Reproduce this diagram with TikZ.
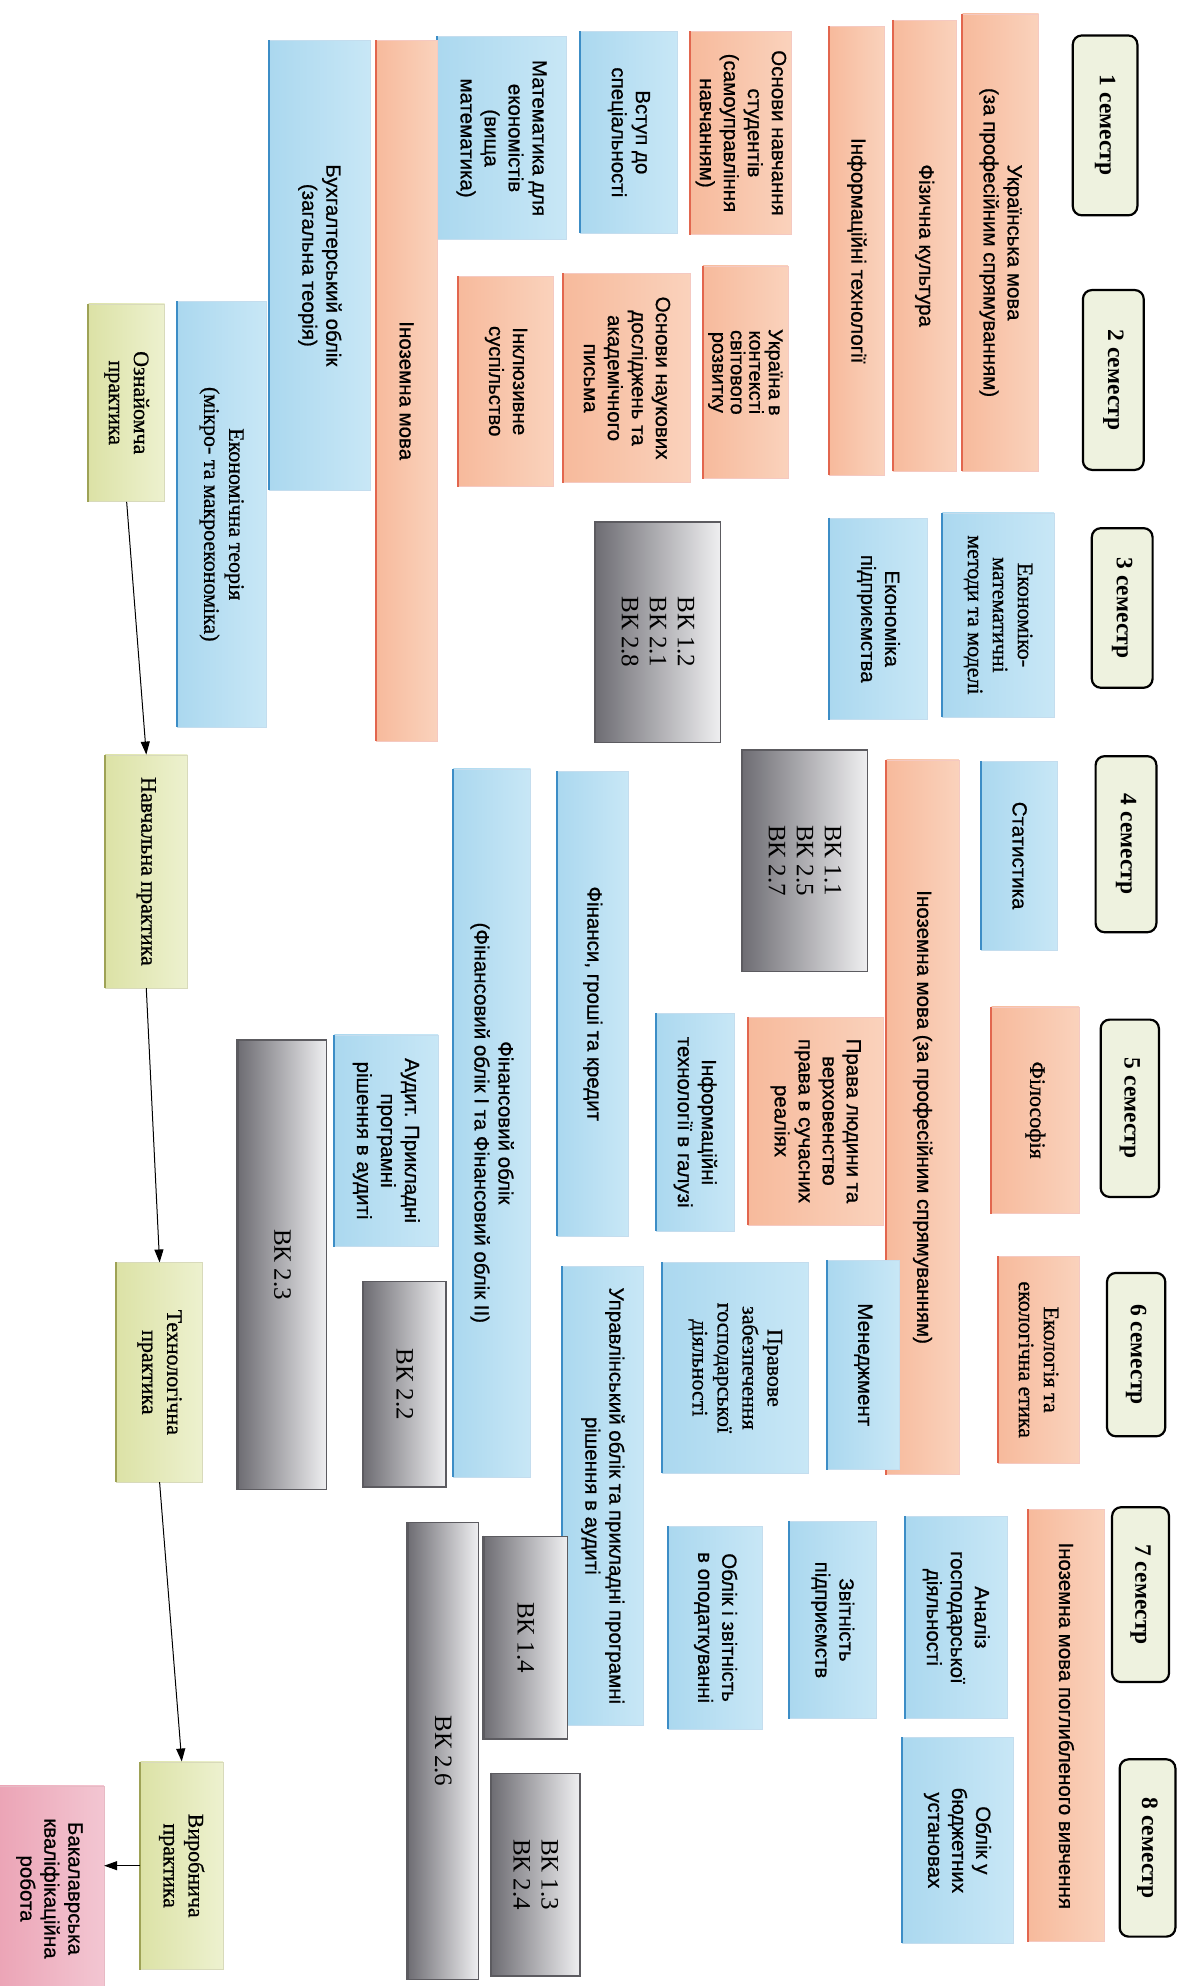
\documentclass[tikz,border=0pt]{standalone}
\usepackage{fontspec}
\setmainfont{Liberation Serif}
\setsansfont{Liberation Sans}
\newfontfamily\bsans{Liberation Sans}[FakeBold=0.8]
\newfontfamily\bserif{Liberation Serif}[FakeBold=0.8]
\usetikzlibrary{arrows.meta}
\definecolor{orA}{HTML}{F7BA9C}
\definecolor{orB}{HTML}{FDE8DB}
\definecolor{orC}{HTML}{FAD2BC}
\definecolor{orE}{HTML}{E2664E}
\definecolor{blA}{HTML}{ABD8EF}
\definecolor{blB}{HTML}{E1F2FA}
\definecolor{blC}{HTML}{C8E7F6}
\definecolor{blE}{HTML}{3C8DC6}
\definecolor{grA}{HTML}{6E6D73}
\definecolor{grB}{HTML}{D9D9DC}
\definecolor{grC}{HTML}{EFEFF1}
\definecolor{grE}{HTML}{5C5B60}
\definecolor{gnA}{HTML}{DCE2A6}
\definecolor{gnB}{HTML}{F6F8E4}
\definecolor{gnC}{HTML}{EDF1CF}
\definecolor{gnE}{HTML}{9EA256}
\definecolor{pkA}{HTML}{EBA3B5}
\definecolor{pkB}{HTML}{F9E0E7}
\definecolor{pkC}{HTML}{F3C6D2}
\definecolor{pkE}{HTML}{C2526C}
\definecolor{semF}{HTML}{EEF2DF}
\tikzset{
  cbox/.style={rotate=-90, align=center, inner sep=2pt, line width=0.6pt, text=black},
  sansf/.style={font=\bsans\fontsize{20.5}{24}\selectfont},
  seriff/.style={font=\bserif\fontsize{22}{25}\selectfont},
  vkf/.style={font=\rmfamily\fontsize{25}{28}\selectfont},
  or box/.style={cbox, sansf, draw=orE!35, left color=orA, middle color=orB, right color=orC},
  or edge/.style={draw=orE, line width=2pt},
  bl box/.style={cbox, sansf, draw=blE!30, left color=blA, middle color=blB, right color=blC},
  bl edge/.style={draw=blE, line width=2pt},
  gr box/.style={cbox, vkf, draw=grE, line width=1.4pt, left color=grA, middle color=grB, right color=grC},
  gr edge/.style={draw=grE, line width=2pt},
  gn box/.style={cbox, seriff, draw=gnE!40, left color=gnA, middle color=gnB, right color=gnC},
  gn edge/.style={draw=gnE, line width=2pt},
  pk box/.style={cbox, sansf, draw=pkE!40, left color=pkA, middle color=pkB, right color=pkC},
  pk edge/.style={draw=pkE, line width=2pt},
  sem/.style={rotate=-90, draw=black, line width=2.2pt, rounded corners=9pt, fill=semF,
    font=\rmfamily\bfseries\fontsize{23.5}{26}\selectfont},
  flow/.style={line width=1pt, -{Triangle[length=13pt,width=9pt]}}
}
% \bx{name}{type}{extra}{x1}{y1}{x2}{y2}{text}
\newcommand\bx[8]{%
  \pgfmathsetmacro\bxcx{(#4+#6)/2}\pgfmathsetmacro\bxcy{(#5+#7)/2}%
  \pgfmathsetmacro\bxww{abs(#7-#5)*1.267}\pgfmathsetmacro\bxhh{abs(#6-#4)*1.267}%
  \node[#2 box, minimum width=\bxww pt, minimum height=\bxhh pt, #3] (#1) at (\bxcx,\bxcy) {#8};
  \draw[#2 edge] (#1.south west) -- (#1.south east);}
\newcommand\sm[6]{%
  \pgfmathsetmacro\bxcx{(#2+#4)/2}\pgfmathsetmacro\bxcy{(#3+#5)/2}%
  \pgfmathsetmacro\bxww{abs(#5-#3)*1.267}\pgfmathsetmacro\bxhh{abs(#4-#2)*1.267}%
  \node[sem, minimum width=\bxww pt, minimum height=\bxhh pt] (#1) at (\bxcx,\bxcy) {#6};}
\begin{document}
\begin{tikzpicture}[x=1.267pt, y=-1.267pt]
\useasboundingbox[fill=white] (0,0) rectangle (940,1568);
% semesters
\sm{s1}{847}{28}{898}{170}{1 семестр}
\sm{s2}{855}{229}{903}{371}{2 семестр}
\sm{s3}{862}{417}{910}{543}{3 семестр}
\sm{s4}{865}{597}{913}{736}{4 семестр}
\sm{s5}{869}{805}{915}{945}{5 семестр}
\sm{s6}{874}{1005}{920}{1134}{6 семестр}
\sm{s7}{878}{1190}{923}{1328}{7 семестр}
\sm{s8}{884}{1389}{928}{1529}{8 семестр}
% semester 1-2
\bx{ukr}{or}{}{760}{11}{820}{372}{Українська мова\\(за професійним спрямуванням)}
\bx{fiz}{or}{}{705}{16}{755}{372}{Фізична культура}
\bx{inf}{or}{}{655}{21}{698}{375}{Інформаційні технології}
\bx{osn}{or}{}{545}{25}{625}{185}{Основи навчання\\студентів\\(самоуправління\\навчанням)}
\bx{vst}{bl}{}{458}{25}{535}{184}{Вступ до\\спеціальності}
\bx{mat}{bl}{}{345}{29}{447}{189}{Математика для\\економістів\\(вища\\математика)}
\bx{ino}{or}{}{297}{32}{345}{585}{Іноземна мова}
\bx{bux}{bl}{}{213}{32}{292}{387}{Бухгалтерський облік\\(загальна теорія)}
\bx{ukk}{or}{font=\bsans\fontsize{20}{18.5}\selectfont}{555}{210}{622}{378}{Україна в\\контексті\\світового\\розвитку}
\bx{nauk}{or}{}{445}{216}{545}{381}{Основи наукових\\досліджень та\\академічного\\письма}
\bx{inkl}{or}{}{362}{218}{437}{384}{Інклюзивне\\суспільство}
\bx{ekt}{bl}{seriff}{140}{238}{210}{574}{Економічна теорія\\(мікро- та макроекономіка)}
\bx{ozn}{gn}{}{70}{240}{130}{396}{Ознайомча\\практика}
% semester 3
\bx{emm}{bl}{seriff}{744}{405}{832}{566}{Економіко-\\математичні\\методи та моделі}
\bx{ekp}{bl}{}{655}{409}{732}{568}{Економіка\\підприємства}
\bx{vka}{gr}{align=left}{470}{412}{569}{586}{ВК 1.2\\ВК 2.1\\ВК 2.8}
% semester 4
\bx{stat}{bl}{}{775}{601}{835}{750}{Статистика}
\bx{inop}{or}{}{700}{600}{757}{1164}{Іноземна мова (за професійним спрямуванням)}
\bx{vkb}{gr}{align=left}{586}{592}{685}{767}{ВК 1.1\\ВК 2.5\\ВК 2.7}
\bx{fin}{bl}{}{440}{609}{496}{976}{Фінанси, гроші та кредит}
\bx{fo}{bl}{}{358}{607}{419}{1166}{Фінансовий облік\\(Фінансовий облік І та Фінансовий облік ІІ)}
\bx{nav}{gn}{}{83}{596}{148}{780}{Навчальна практика}
% semester 5
\bx{fil}{or}{seriff}{783}{795}{852}{958}{Філософія}
\bx{prl}{or}{}{591}{803}{697}{967}{Права людини та\\верховенство\\права в сучасних\\реаліях}
\bx{itg}{bl}{}{518}{800}{580}{972}{Інформаційні\\технології в галузі}
\bx{aud}{bl}{}{264}{817}{346}{984}{Аудит. Прикладні\\програмні\\рішення в аудиті}
\bx{vkc}{gr}{}{188}{821}{258}{1176}{ВК 2.3}
% semester 6
\bx{eko}{or}{seriff}{788}{992}{852}{1155}{Екологія та\\екологічна етика}
\bx{men}{bl}{}{653}{995}{710}{1160}{Менеджмент}
\bx{prav}{bl}{seriff}{523}{997}{638}{1163}{Правове\\забезпечення\\господарської\\діяльності}
\bx{upr}{bl}{}{444}{1000}{508}{1362}{Управлінський облік та прикладні програмні\\рішення в аудиті}
\bx{vkd}{gr}{}{287}{1012}{352}{1174}{ВК 2.2}
\bx{tex}{gn}{}{92}{997}{160}{1170}{Технологічна\\практика}
% semester 7
\bx{inpg}{or}{}{812}{1192}{872}{1533}{Іноземна мова поглибленого вивчення}
\bx{anl}{bl}{}{715}{1197}{795}{1357}{Аналіз\\господарської\\діяльності}
\bx{zvit}{bl}{}{623}{1201}{692}{1357}{Звітність\\підприємств}
\bx{oblp}{bl}{}{528}{1205}{602}{1365}{Облік і звітність\\в оподаткуванні}
\bx{vke}{gr}{}{382}{1213}{448}{1373}{ВК 1.4}
\bx{vkf}{gr}{}{322}{1202}{378}{1563}{ВК 2.6}
% semester 8
\bx{oblb}{bl}{}{712}{1372}{800}{1534}{Облік у\\бюджетних\\установах}
\bx{vkg}{gr}{align=left}{388}{1400}{458}{1560}{ВК 1.3\\ВК 2.4}
\bx{vyr}{gn}{}{111}{1391}{176}{1555}{Виробнича\\практика}
\bx{bak}{pk}{}{-4}{1410}{82}{1572}{Бакалаврська\\кваліфікаційна\\робота}
% flow
\draw[flow] (ozn.east) -- (nav.west);
\draw[flow] (nav.east) -- (tex.west);
\draw[flow] (tex.east) -- (vyr.west);
\draw[flow] (vyr.south) -- (vyr.south -| bak.north);
\end{tikzpicture}
\end{document}
